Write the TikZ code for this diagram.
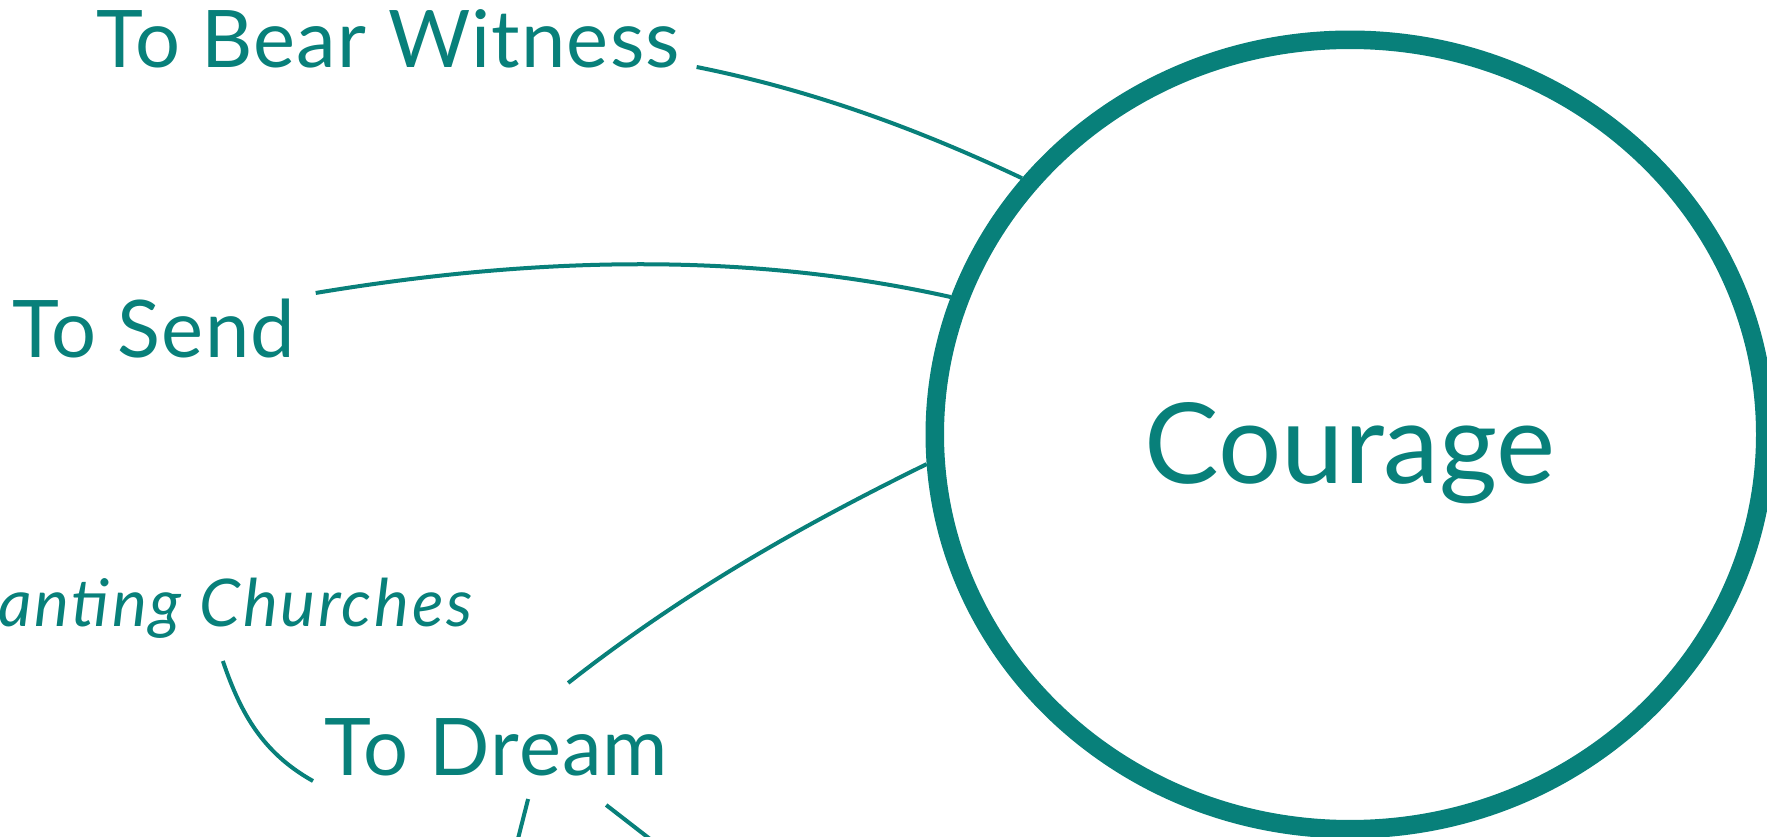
\documentclass[tikz,border=0pt]{standalone}
\usepackage{fontspec}
\setmainfont{Lato}
\usepackage{tikz}
\usetikzlibrary{shapes.geometric}
\definecolor{tealink}{RGB}{8,128,122}

\begin{document}
\begin{tikzpicture}[x=0.01cm,y=-0.01cm,
                    lbl/.style={inner sep=0pt,text=tealink,font=\fontsize{22.6}{27}\selectfont\addfontfeature{LetterSpace=1.5}},
                    link/.style={draw=tealink,line width=0.04cm}]
                    \useasboundingbox (0,0) rectangle (1767,837);
                    \clip (0,0) rectangle (1767,837);

                    \node[draw=tealink,line width=0.185cm,ellipse,minimum width=8.3cm,minimum height=7.89cm,
                          text=tealink,text height=0.97cm,text depth=0pt,font=\fontsize{31.8}{38}\selectfont] (c) at (1350,434.5) {Courage};

                    \node[lbl,anchor=base west] (w) at (96,68) {To Bear Witness};
                    \node[lbl,anchor=base west] (s) at (12,357) {To Send};
                    \node[lbl,anchor=base east,font=\fontsize{18.7}{22}\selectfont\itshape\addfontfeature{LetterSpace=4}] (ch) at (473,626) {Planting Churches};
                    \node[lbl,anchor=base west] (d) at (324,775) {To Dream};

                    \coordinate (dl) at (510,870);
                    \coordinate (dr) at (690,870);

                    \draw[link] ([xshift=0.16cm,yshift=0.01cm]w.base east) .. controls +(110,22) and +(-110,-52) .. (c.142.8);
                    \draw[link] ([xshift=0.2cm,yshift=0.64cm]s.base east) .. controls +(210,-35) and +(-210,-47) .. (c.161);
                    \draw[link] ([xshift=2.44cm,yshift=0.92cm]d.base west) .. controls +(120,-94) and +(-120,59) .. (c.184.9);
                    \draw[link] ([xshift=-2.5cm,yshift=-0.35cm]ch.base east) .. controls +(18,53) and +(-50,-28) .. ([xshift=-0.11cm,yshift=-0.06cm]d.base west);
                    \draw[link] ([xshift=2.04cm,yshift=-0.24cm]d.base west) -- (dl);
                    \draw[link] ([xshift=2.82cm,yshift=-0.3cm]d.base west) -- (dr);
\end{tikzpicture}
\end{document}
